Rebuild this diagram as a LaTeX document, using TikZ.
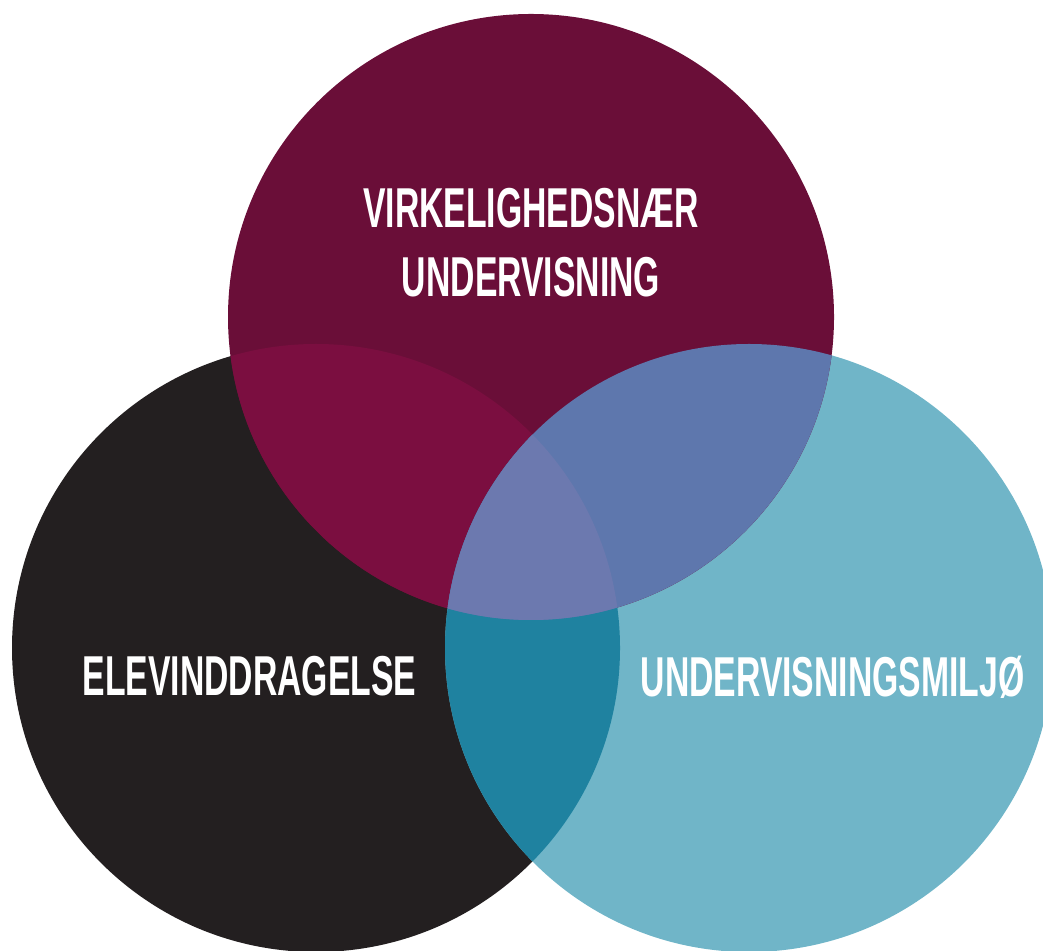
\documentclass[tikz,border=0pt]{standalone}
\usepackage{fontspec}
\setmainfont[FakeStretch=0.6]{Liberation Sans}
\usepackage{tikz}
\definecolor{venntop}{HTML}{6A0E38}
\definecolor{vennleft}{HTML}{231F20}
\definecolor{vennright}{HTML}{70B5C8}
\definecolor{venntopleft}{HTML}{7B0E40}
\definecolor{vennleftright}{HTML}{1F82A0}
\definecolor{venntopright}{HTML}{5E77AD}
\definecolor{vennall}{HTML}{6C79AF}
\tikzstyle{venntext} = [text=white,font=\bfseries\fontsize{16}{19.6}\selectfont,inner sep=0pt]

\begin{document}
\begin{tikzpicture}
[topcircle/.style={circle,minimum size=6.06cm,inner sep=0pt},
sidecircle/.style={circle,minimum size=6.08cm,inner sep=0pt}]
\useasboundingbox (0,0) rectangle (10.43,9.5);
\clip (0,0) rectangle (10.43,9.5);
% the three circles
\node[sidecircle,fill=vennleft] (left) at (3.16,3.02) {};
\node[sidecircle,fill=vennright] (right) at (7.49,3.02) {};
\node[topcircle,fill=venntop] (top) at (5.31,6.33) {};
% overlaps
\begin{scope}
\clip (3.16,3.02) circle (3.04);
\fill[venntopleft] (5.31,6.33) circle (3.03);
\fill[vennleftright] (7.49,3.02) circle (3.04);
\end{scope}
\begin{scope}
\clip (5.31,6.33) circle (3.03);
\fill[venntopright] (7.49,3.02) circle (3.04);
\clip (3.16,3.02) circle (3.04);
\fill[vennall] (7.49,3.02) circle (3.04);
\end{scope}
% labels
\node[venntext,align=center] (toplabel) at (5.31,7.07) {VIRKELIGHEDSNÆR\\UNDERVISNING};
\node[venntext,anchor=base] (leftlabel) at (2.495,2.55) {ELEVINDDRAGELSE};
\node[venntext,anchor=base] (rightlabel) at (8.325,2.54) {UNDERVISNINGSMILJØ};
\end{tikzpicture}
\end{document}
